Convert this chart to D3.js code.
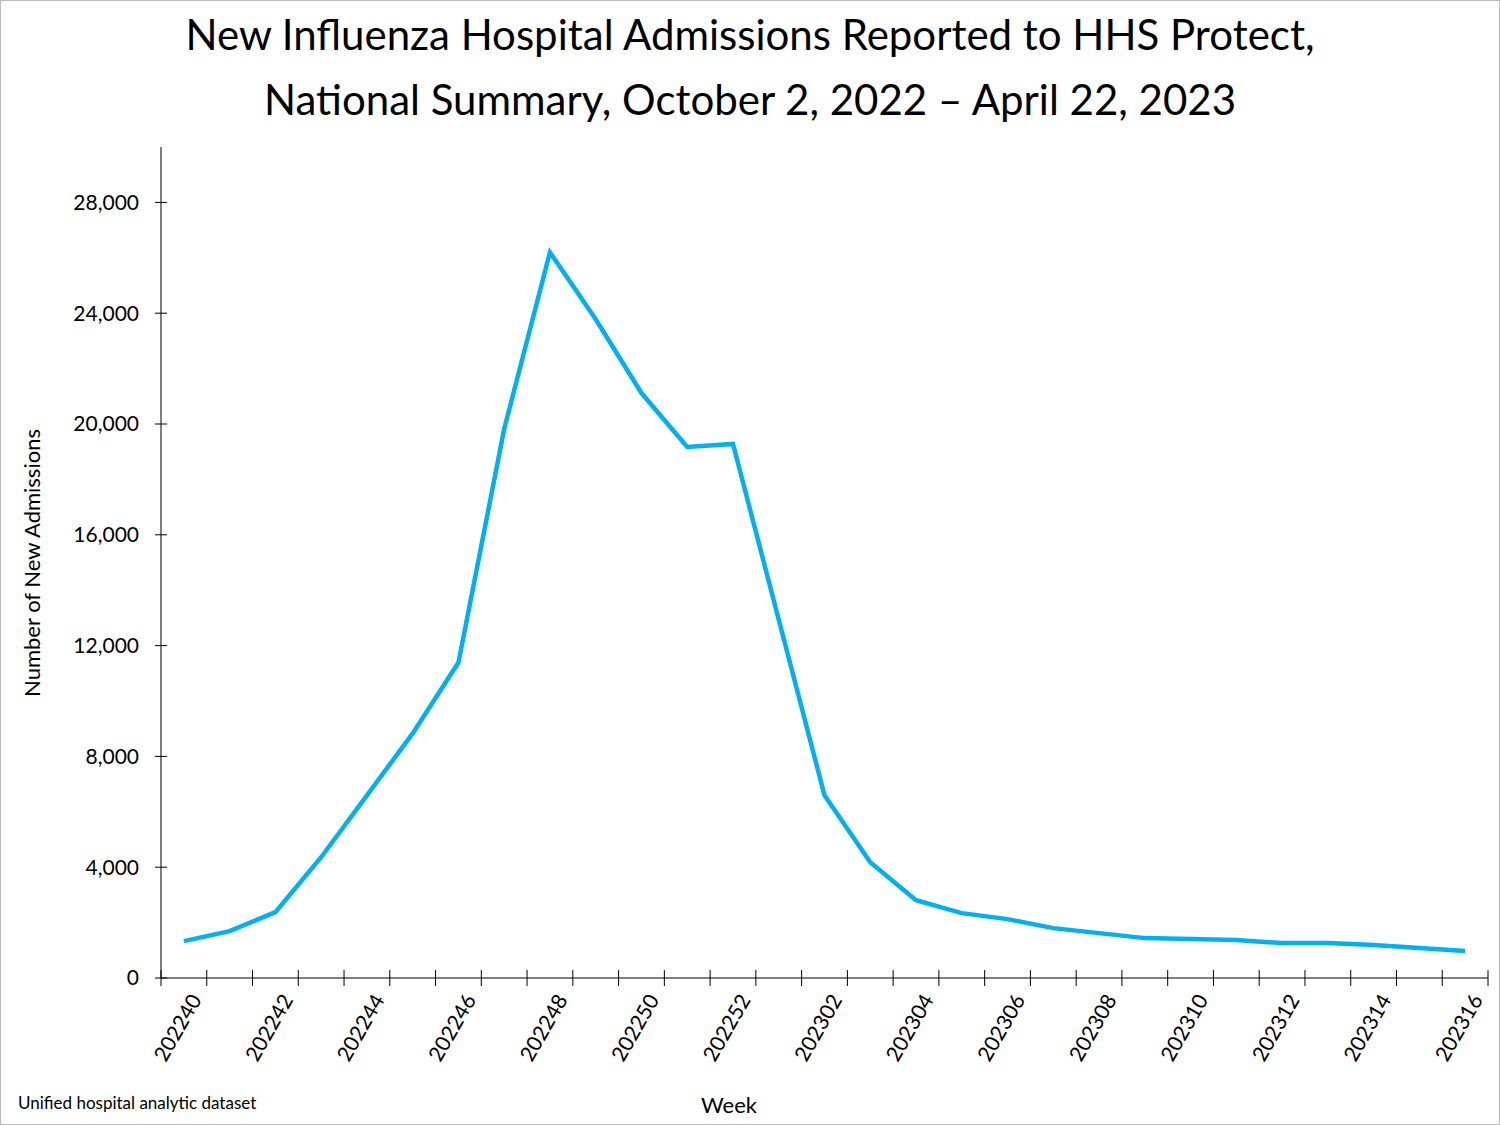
<!DOCTYPE html>
<html><head><meta charset="utf-8">
<script src="https://cdn.jsdelivr.net/npm/d3@7"></script>
<style>body{margin:0;background:#fff}svg{display:block;font-family:Lato,"Open Sans",sans-serif}</style>
</head><body><svg id="c" width="1500" height="1125"></svg>
<script>
const weeks = ["202240","202241","202242","202243","202244","202245","202246","202247","202248","202249","202250","202251","202252","202301","202302","202303","202304","202305","202306","202307","202308","202309","202310","202311","202312","202313","202314","202315","202316"];
const admissions = [1333,1694,2378,4360,6595,8830,11387,19820,26200,23780,21117,19170,19280,12937,6595,4180,2810,2342,2126,1800,1620,1440,1405,1370,1260,1260,1190,1080,973];
const yTicks = [0,4000,8000,12000,16000,20000,24000,28000];

const svg = d3.select("#c");
svg.append("rect").attr("x",0.5).attr("y",0.5).attr("width",1499).attr("height",1124).attr("fill","none").attr("stroke","#bbb");
const L=161,R=1488,T=147,B=978;
const x = d3.scaleBand().domain(weeks).range([L,R]);
const y = d3.scaleLinear().domain([0,30000]).range([B,T]);

svg.append("line").attr("x1",L).attr("x2",L).attr("y1",T).attr("y2",B).attr("stroke","#000");
yTicks.forEach(t=>{
  svg.append("line").attr("x1",L-6).attr("x2",L+6).attr("y1",y(t)).attr("y2",y(t)).attr("stroke","#000");
  svg.append("text").attr("x",L-22).attr("y",y(t)).attr("dy","0.35em").attr("text-anchor","end").attr("font-size",21).text(d3.format(",")(t));
});
svg.append("line").attr("x1",L).attr("x2",R).attr("y1",B).attr("y2",B).attr("stroke","#000");
weeks.forEach((w,i)=>{
  svg.append("line").attr("x1",x(w)).attr("x2",x(w)).attr("y1",B-8).attr("y2",B+8).attr("stroke","#000");
  if(i%2===0){
    const cx=x(w)+x.bandwidth()/2+12, cy=B+18;
    svg.append("text").attr("transform",`translate(${cx},${cy}) rotate(-60)`).attr("text-anchor","end").attr("dy","0.35em").attr("font-size",21).text(w);
  }
});
svg.append("line").attr("x1",R).attr("x2",R).attr("y1",B-8).attr("y2",B+8).attr("stroke","#000");

const line = d3.line().x((d,i)=>x(weeks[i])+x.bandwidth()/2).y(d=>y(d));
svg.append("path").datum(admissions).attr("d",line).attr("fill","none").attr("stroke","#00b0f0").attr("stroke-width",4.5).attr("stroke-linejoin","miter");

svg.append("text").attr("x",750).attr("y",50).attr("text-anchor","middle").attr("font-size",42).text("New Influenza Hospital Admissions Reported to HHS Protect,");
svg.append("text").attr("x",750).attr("y",115).attr("text-anchor","middle").attr("font-size",42).text("National Summary, October 2, 2022 – April 22, 2023");
svg.append("text").attr("transform","translate(40,563) rotate(-90)").attr("text-anchor","middle").attr("font-size",22).text("Number of New Admissions");
svg.append("text").attr("x",729).attr("y",1113).attr("text-anchor","middle").attr("font-size",22).text("Week");
svg.append("text").attr("x",18).attr("y",1109).attr("font-size",17).text("Unified hospital analytic dataset");
</script></body></html>
